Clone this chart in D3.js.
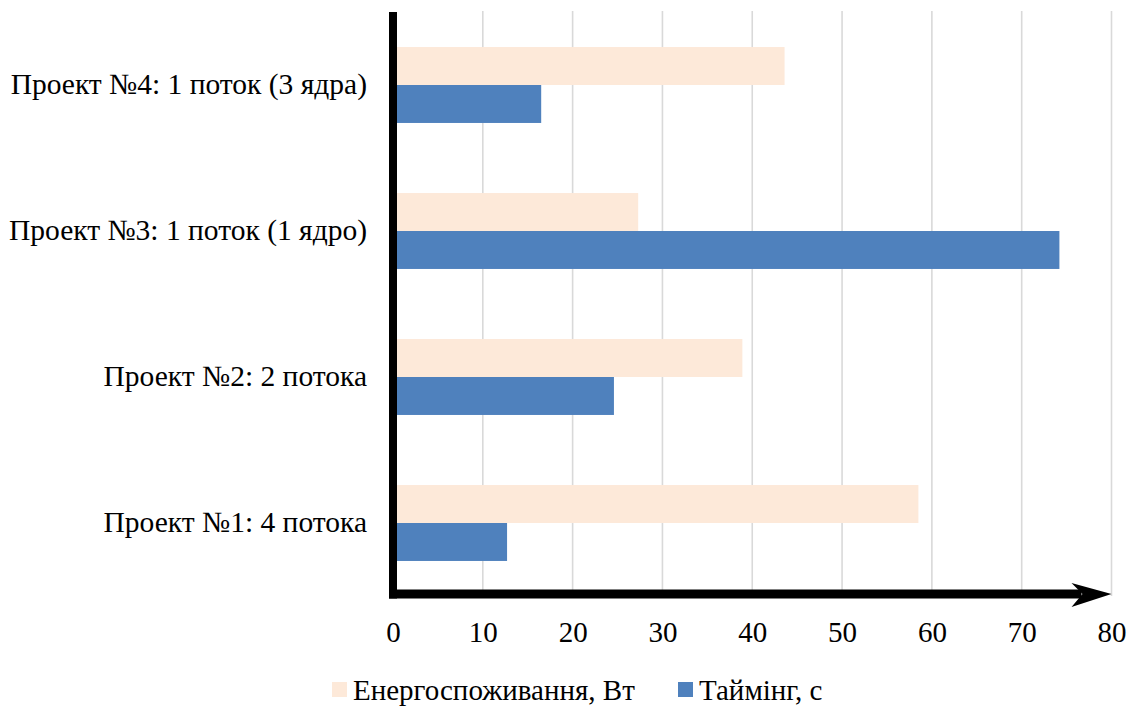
<!DOCTYPE html>
<html>
<head>
<meta charset="utf-8">
<script src="https://d3js.org/d3.v7.min.js"></script>
<style>
  html, body { margin: 0; padding: 0; background: #ffffff; }
  svg { display: block; }
  text { font-family: "Liberation Serif", "Times New Roman", serif; fill: #000; }
</style>
</head>
<body>
<svg id="chart" width="1131" height="706"></svg>
<script>
// Categories, listed bottom to top as they appear on the axis
const categories = [
  "Проект №1: 4 потока",
  "Проект №2: 2 потока",
  "Проект №3: 1 поток (1 ядро)",
  "Проект №4: 1 поток (3 ядра)"
];
const seriesNames = ["Енергоспоживання, Вт", "Таймінг, с"];
const energy = [58.5, 38.9, 27.3, 43.6];
const timing = [12.7, 24.6, 74.2, 16.5];
const xTicks = [0, 10, 20, 30, 40, 50, 60, 70, 80];
const colors = ["#fde9d9", "#4f81bd"];

const svg = d3.select("#chart");

const plot = { left: 393, right: 1111.5, top: 12, bottom: 596 };

const x = d3.scaleLinear().domain([0, 80]).range([plot.left, plot.right]);

// Top category drawn first (reverse order top→bottom)
const y = d3.scaleBand()
  .domain(categories.slice().reverse())
  .range([plot.top, plot.bottom])
  .paddingInner(0.48)
  .paddingOuter(0.24);

const ySub = d3.scaleBand()
  .domain(seriesNames)
  .range([0, y.bandwidth()]);

// Vertical gridlines
svg.append("g")
  .attr("class", "grid")
  .selectAll("line")
  .data(xTicks.filter(d => d > 0))
  .join("line")
  .attr("x1", d => x(d)).attr("x2", d => x(d))
  .attr("y1", plot.top - 1).attr("y2", plot.bottom)
  .attr("stroke", "#d9d9d9")
  .attr("stroke-width", 1.6);

// Bars
const rows = categories.map((c, i) => ({
  cat: c,
  values: [
    { series: seriesNames[0], value: energy[i], color: colors[0] },
    { series: seriesNames[1], value: timing[i], color: colors[1] }
  ]
}));

const groups = svg.append("g").attr("class", "bars")
  .selectAll("g")
  .data(rows)
  .join("g")
  .attr("transform", d => `translate(0,${y(d.cat)})`);

groups.selectAll("rect")
  .data(d => d.values)
  .join("rect")
  .attr("x", x(0))
  .attr("y", d => ySub(d.series))
  .attr("width", d => x(d.value) - x(0))
  .attr("height", ySub.bandwidth())
  .attr("fill", d => d.color);

// Category labels
svg.append("g").attr("class", "cat-labels")
  .selectAll("text")
  .data(categories)
  .join("text")
  .attr("x", 367)
  .attr("y", d => y(d) + y.bandwidth() / 2 + 8.5)
  .attr("text-anchor", "end")
  .attr("font-size", 29.5)
  .text(d => d);

// X tick labels
const xAxis = d3.axisBottom(x).tickValues(xTicks).tickSize(0).tickPadding(0)
  .tickFormat(d3.format("d"));
const gx = svg.append("g")
  .attr("transform", `translate(0,${642})`)
  .attr("font-family", "Liberation Serif, Times New Roman, serif")
  .attr("font-size", 29)
  .call(xAxis);
gx.attr("font-family", "Liberation Serif, Times New Roman, serif")
  .attr("font-size", 29);
gx.select(".domain").remove();
gx.selectAll("text")
  .attr("dy", 0)
  .attr("fill", "#000");

// Axes drawn as thick black lines, x axis ending in an arrow
const axisY = 594;
svg.append("line")
  .attr("x1", plot.left).attr("x2", plot.left)
  .attr("y1", plot.top).attr("y2", axisY + 4.5)
  .attr("stroke", "#000").attr("stroke-width", 8);

svg.append("line")
  .attr("x1", plot.left - 4).attr("x2", x(80) - 30)
  .attr("y1", axisY).attr("y2", axisY)
  .attr("stroke", "#000").attr("stroke-width", 9);

const tipX = x(80);
svg.append("path")
  .attr("d", `M${tipX},${axisY} L${tipX - 40},${axisY - 11} L${tipX - 29},${axisY} L${tipX - 40},${axisY + 13} Z`)
  .attr("fill", "#000");

// Legend
const legendItems = [
  { name: seriesNames[0], color: colors[0], sx: 332, tx: 353 },
  { name: seriesNames[1], color: colors[1], sx: 678, tx: 699 }
];
const lg = svg.append("g").attr("class", "legend");
lg.selectAll("rect")
  .data(legendItems)
  .join("rect")
  .attr("x", d => d.sx).attr("y", 682)
  .attr("width", 15).attr("height", 15)
  .attr("fill", d => d.color);
lg.selectAll("text")
  .data(legendItems)
  .join("text")
  .attr("x", d => d.tx).attr("y", 700)
  .attr("font-size", 29)
  .text(d => d.name);
</script>
</body>
</html>
